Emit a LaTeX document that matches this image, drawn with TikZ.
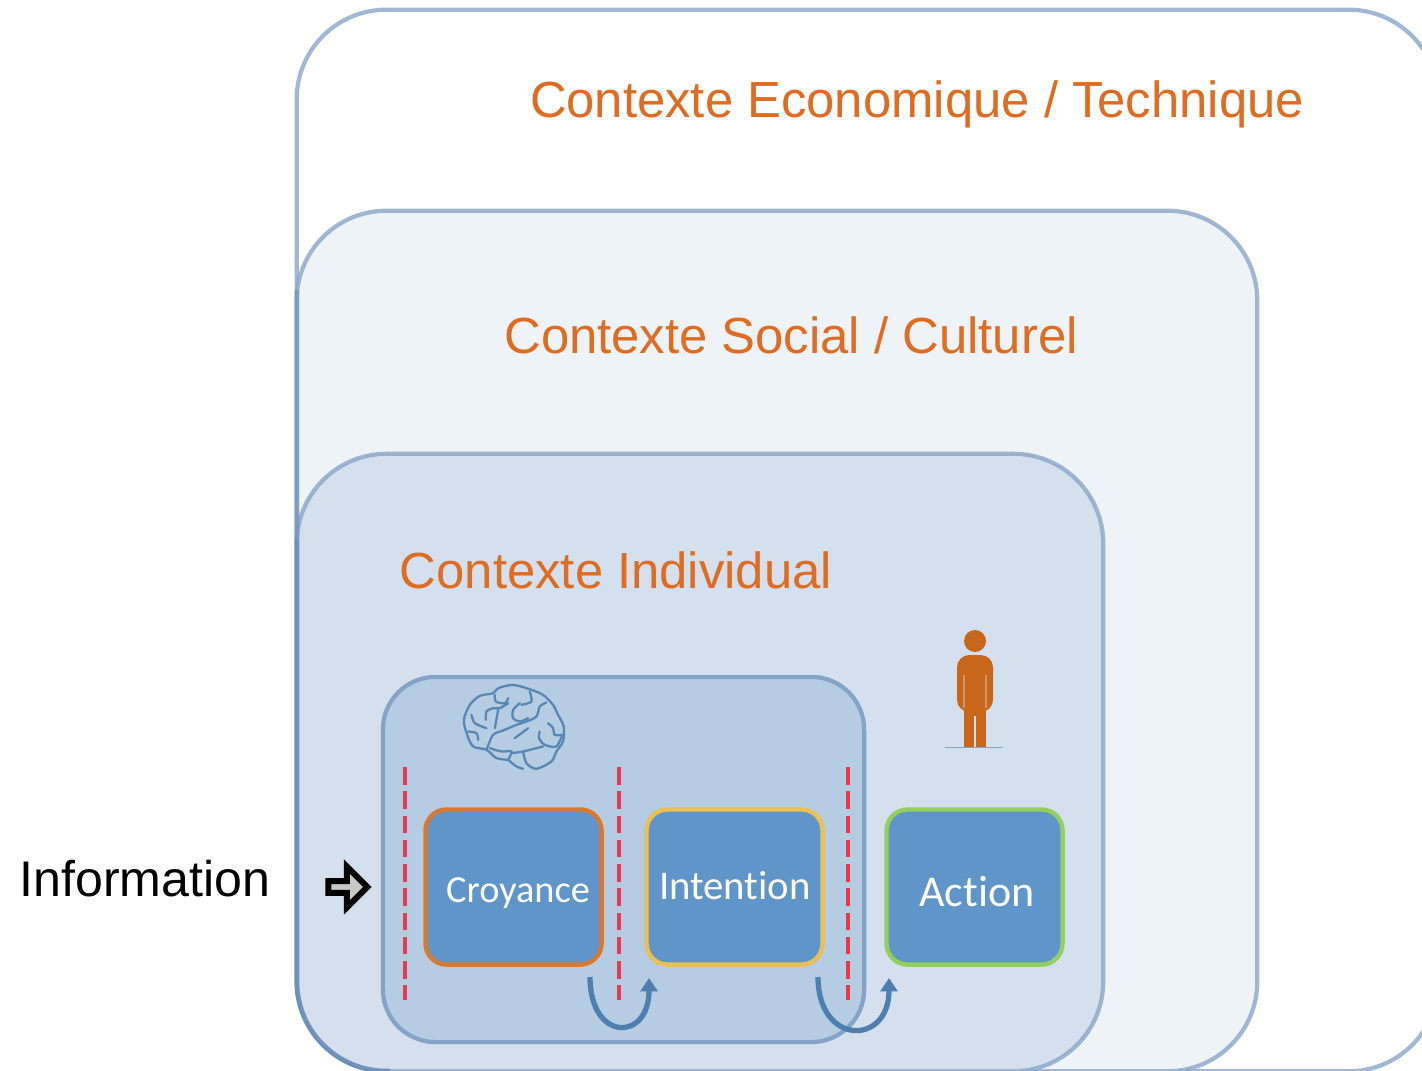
\documentclass[tikz,border=0pt]{standalone}
\usepackage{fontspec}
\setmainfont{Liberation Sans}
\newfontfamily\boxfont[Ligatures=CommonOff]{Carlito}
\usepackage{tikz}
\usetikzlibrary{shapes, arrows.meta}

\definecolor{ctxorange}{HTML}{DF6C20}
\definecolor{ctxline}{HTML}{8AA6C8}
\definecolor{ctxdark}{HTML}{5F86B3}
\definecolor{ctxmid}{HTML}{EEF3F8}
\definecolor{ctxind}{HTML}{D4E0EE}
\definecolor{mindfill}{HTML}{B6CCE3}
\definecolor{mindline}{HTML}{85A3C5}
\definecolor{stagefill}{HTML}{5F95C9}
\definecolor{loopblue}{HTML}{4F7FAE}
\definecolor{redline}{HTML}{E8394F}
\definecolor{personcol}{HTML}{C8661A}
\definecolor{edgeorange}{HTML}{D9782F}
\definecolor{edgeyellow}{HTML}{EBBF52}
\definecolor{edgegreen}{HTML}{93CF5C}

\tikzset{
  context/.style={draw=ctxline, draw opacity=0.8, line width=1.2pt, rounded corners=25.5pt, inner sep=0pt},
  ctxlabel/.style={text=ctxorange, font=\fontsize{14.45}{16}\selectfont, inner sep=0pt},
  ctxedge/.style={draw=ctxdark, draw opacity=0.45, line width=1.3pt, rounded corners=25.5pt},
  stage/.style={draw, fill=stagefill, line width=1.25pt, rounded corners=6pt, minimum width=1.76cm, minimum height=1.55cm, inner sep=0pt},
  stagetxt/.style={text=white, inner sep=0pt},
  loop/.style={draw=loopblue, line width=1.5pt, -{Triangle[length=3.8pt, width=4.8pt]}},
  barrier/.style={draw=redline, line width=1pt, dash pattern=on 5pt off 1.9pt},
  brainline/.style={draw=loopblue!90!mindfill, line width=0.65pt, line cap=round}
}

\begin{document}
\begin{tikzpicture}[x=0.01cm, y=-0.01cm]
  \useasboundingbox (0, 0) rectangle (1422, 1070);
  \clip (0, 0) rectangle (1422, 1070);

  % contexts
  \node[context, fill=white, minimum width=11.41cm, minimum height=10.61cm] (eco) at (867.5, 540.5) {};
  \node[context, fill=ctxmid, minimum width=9.6cm, minimum height=8.6cm] (soc) at (777, 641) {};
  \node[context, fill=ctxind, minimum width=8.06cm, minimum height=6.17cm] (ind) at (700, 762.5) {};
  \node[context, fill=mindfill, draw=mindline, draw opacity=1, rounded corners=15pt, minimum width=4.81cm, minimum height=3.65cm] (mind) at (623.5, 859.5) {};
  \draw[ctxedge] (297, 290) -- (297, 1071) -- (390, 1071);
  \draw[ctxedge] (297, 540) -- (297, 1071) -- (390, 1071);

  \node[ctxlabel] (ecotxt) at (917, 104) {Contexte Economique / Technique};
  \node[ctxlabel] (soctxt) at (791, 335) {Contexte Social / Culturel};
  \node[ctxlabel] (indtxt) at (616, 570) {Contexte Individual};

  % stages
  \node[stage, draw=edgeorange] (croy) at (513.5, 887) {};
  \node[stage, draw=edgeyellow] (inten) at (734.5, 887) {};
  \node[stage, draw=edgegreen] (act) at (974.5, 887) {};
  \node[stagetxt, font=\boxfont\fontsize{10.9}{12}\selectfont] (croytxt) at (518, 893) {Croyance};
  \node[stagetxt, font=\boxfont\fontsize{11.6}{12}\selectfont] (intentxt) at (735, 886) {Intention};
  \node[stagetxt, font=\boxfont\fontsize{12.5}{12}\selectfont] (acttxt) at (977, 892) {Action};

  \foreach \x in {405, 619, 848}
    \draw[barrier] (\x, 767) -- (\x, 1000);

  % loops
  \coordinate (l1a) at (590, 977);
  \coordinate (l1b) at (649, 978);
  \coordinate (l2a) at (818, 977);
  \coordinate (l2b) at (889, 978);
  \draw[loop] (l1a) .. controls (590, 1042) and (649, 1042) .. (l1b);
  \draw[loop] (l2a) .. controls (818, 1046) and (889, 1046) .. (l2b);

  % information
  \node[font=\fontsize{14.25}{16}\selectfont, inner sep=0pt] (info) at (145, 879) {Information};
  \node[draw=black, fill=black!22, line width=1.7pt, single arrow, single arrow head extend=0.12cm, minimum height=0.39cm, minimum width=0.41cm, inner sep=0.5pt] (infoarrow) at (345, 887) {};

  % person
  \fill[personcol] (975, 641) circle (11);
  \fill[personcol, rounded corners=3.5pt] (957, 655) rectangle (993, 712);
  \fill[personcol] (964, 700) rectangle (974, 747);
  \fill[personcol] (976, 700) rectangle (986, 747);
  \fill[personcol] (964, 700) rectangle (986, 716);
  \draw[personcol!60!ctxind, line width=0.3pt] (964, 675) -- (964, 708) (986, 675) -- (986, 708);
  \draw[mindline, line width=0.2pt] (945, 747) -- (1003, 747);

  % brain
  \begin{scope}[shift={(380, 620)}, x=0.00333cm, y=-0.00333cm]
    \draw[brainline] plot[smooth] coordinates {(385,420) (350,415) (320,390) (280,380) (262,345) (252,300) (270,255) (300,228) (340,220) (355,205) (400,195) (450,208) (490,225) (520,255) (535,285) (552,320) (550,365) (530,395) (515,425) (470,447) (440,430) (430,395)};
    \draw[brainline] plot[smooth] coordinates {(395,400) (430,395) (490,380)};
    \draw[brainline] plot[smooth] coordinates {(320,390) (340,345) (370,332) (410,315) (440,305) (470,290) (480,260) (500,248)};
    \draw[brainline] plot[smooth] coordinates {(480,335) (478,355) (495,375) (530,380) (548,345)};
    \draw[brainline] plot[smooth] coordinates {(505,310) (520,325) (525,345) (548,345)};
    \draw[brainline] plot[smooth] coordinates {(345,225) (348,245) (375,250) (385,235)};
    \draw[brainline] plot[smooth] coordinates {(385,250) (360,265) (340,265) (320,275) (318,300)};
    \draw[brainline] plot[smooth] coordinates {(355,270) (345,325)};
    \draw[brainline] plot[smooth] coordinates {(275,285) (285,310) (320,325)};
    \draw[brainline] plot[smooth] coordinates {(265,335) (290,340) (295,360)};
    \draw[brainline] plot[smooth] coordinates {(420,250) (400,270) (400,295) (420,305) (445,295)};
    \draw[brainline] plot[smooth] coordinates {(450,215) (455,245) (425,255)};
    \draw[brainline] plot[smooth] coordinates {(445,325) (425,340) (405,355)};
    \draw[brainline] plot[smooth] coordinates {(385,420) (410,440) (430,447)};
    \draw[brainline] plot[smooth] coordinates {(330,385) (365,395) (395,395) (385,420)};
  \end{scope}
\end{tikzpicture}
\end{document}
